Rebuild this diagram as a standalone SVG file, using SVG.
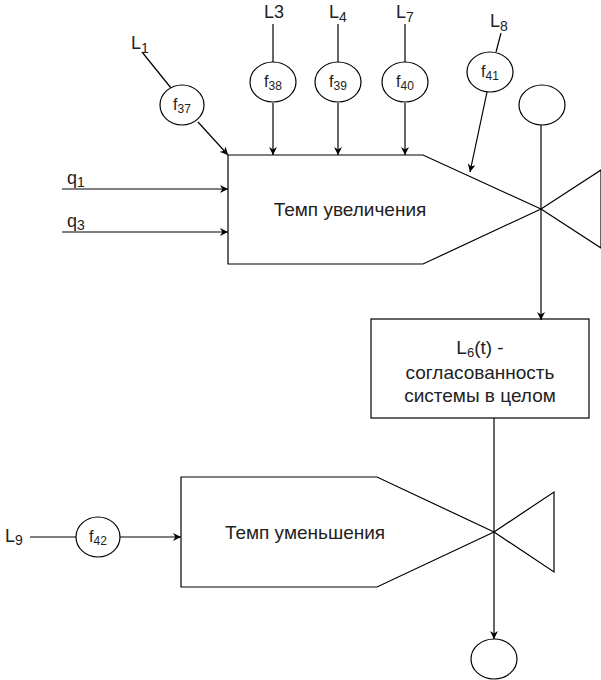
<svg xmlns="http://www.w3.org/2000/svg" width="601" height="680" viewBox="0 0 601 680">
<defs>
<style>
.s{fill:none;stroke:#000;stroke-width:1.2}
.w{fill:#fff;stroke:#000;stroke-width:1.2}
.t{font-family:"Liberation Sans",Arial,sans-serif;font-size:19px;fill:#222}
.l{font-family:"Liberation Sans",Arial,sans-serif;font-size:18px;fill:#222}
.f{font-family:"Liberation Sans",Arial,sans-serif;font-size:16px;fill:#222}
.b{font-family:"Liberation Sans",Arial,sans-serif;font-size:19px;fill:#222}
</style>
<marker id="a" viewBox="0 0 10 10" refX="10" refY="5" markerWidth="8" markerHeight="8" markerUnits="userSpaceOnUse" orient="auto">
<path d="M0,0 L10,5 L0,10 L3,5 z" fill="#000"/>
</marker>
</defs>
<rect width="601" height="680" fill="#fff"/>
<g id="connectors">
<line class="s" x1="142" y1="52" x2="171" y2="88"/>
<line class="s" x1="198" y1="122" x2="228" y2="155" marker-end="url(#a)"/>
<line class="s" x1="273" y1="24" x2="273" y2="62"/>
<line class="s" x1="273" y1="103" x2="273" y2="155" marker-end="url(#a)"/>
<line class="s" x1="338" y1="24" x2="338" y2="62"/>
<line class="s" x1="338" y1="103" x2="338" y2="155" marker-end="url(#a)"/>
<line class="s" x1="405" y1="24" x2="405" y2="62"/>
<line class="s" x1="405" y1="103" x2="405" y2="155" marker-end="url(#a)"/>
<line class="s" x1="501" y1="33" x2="496" y2="52"/>
<line class="s" x1="487" y1="92" x2="470" y2="172" marker-end="url(#a)"/>
<line class="s" x1="62" y1="189" x2="228" y2="189" marker-end="url(#a)"/>
<line class="s" x1="62" y1="232" x2="228" y2="232" marker-end="url(#a)"/>
<line class="s" x1="541" y1="125" x2="541" y2="320" marker-end="url(#a)"/>
<line class="s" x1="494" y1="418" x2="494" y2="639" marker-end="url(#a)"/>
<line class="s" x1="30" y1="537" x2="76" y2="537"/>
<line class="s" x1="120" y1="537" x2="181" y2="537" marker-end="url(#a)"/>
</g>
<g id="rate-increase">
<polyline class="s" points="541,209 423,155 228,155 228,264 423,264 541,209"/>
<polygon class="s" points="541,209 601,170 601,248"/>
<text class="t" x="350" y="216" text-anchor="middle">Темп увеличения</text>
</g>
<g id="rate-decrease">
<polyline class="s" points="494,532 377,477 181,477 181,587 377,587 494,532"/>
<polygon class="s" points="494,532 554,492 554,572"/>
<text class="t" x="305" y="539" text-anchor="middle">Темп уменьшения</text>
</g>
<g id="L6">
<rect class="s" x="371" y="319" width="218" height="99"/>
<text class="b" x="480" y="354" text-anchor="middle">L<tspan font-size="13" dy="3">6</tspan><tspan dy="-3">(t) -</tspan></text>
<text class="b" x="480" y="379" text-anchor="middle">согласованность</text>
<text class="b" x="480" y="402" text-anchor="middle">системы в целом</text>
</g>
<g id="source"><ellipse class="w" cx="542" cy="105" rx="23" ry="20"/></g>
<g id="sink"><ellipse class="w" cx="494" cy="659" rx="23" ry="20"/></g>
<g id="f37"><ellipse class="w" cx="182" cy="105" rx="22" ry="20"/>
<text class="f" x="182" y="110" text-anchor="middle">f<tspan font-size="12" dy="3">37</tspan></text></g>
<g id="f38"><ellipse class="w" cx="273" cy="82" rx="23" ry="20"/>
<text class="f" x="273" y="87" text-anchor="middle">f<tspan font-size="12" dy="3">38</tspan></text></g>
<g id="f39"><ellipse class="w" cx="338" cy="82" rx="23" ry="20"/>
<text class="f" x="338" y="87" text-anchor="middle">f<tspan font-size="12" dy="3">39</tspan></text></g>
<g id="f40"><ellipse class="w" cx="405" cy="82" rx="23" ry="20"/>
<text class="f" x="405" y="87" text-anchor="middle">f<tspan font-size="12" dy="3">40</tspan></text></g>
<g id="f41"><ellipse class="w" cx="490" cy="72" rx="23" ry="20"/>
<text class="f" x="490" y="77" text-anchor="middle">f<tspan font-size="12" dy="3">41</tspan></text></g>
<g id="f42"><ellipse class="w" cx="98" cy="537" rx="22" ry="20"/>
<text class="f" x="98" y="542" text-anchor="middle">f<tspan font-size="12" dy="3">42</tspan></text></g>
<g id="labels">
<text class="l" x="131" y="49">L<tspan font-size="14" dy="4">1</tspan></text>
<text class="l" x="264" y="18">L3</text>
<text class="l" x="329" y="18">L<tspan font-size="14" dy="4">4</tspan></text>
<text class="l" x="396" y="18">L<tspan font-size="14" dy="4">7</tspan></text>
<text class="l" x="490" y="27">L<tspan font-size="14" dy="4">8</tspan></text>
<text class="l" x="5" y="542">L<tspan font-size="14" dy="3">9</tspan></text>
<text class="l" x="67" y="184">q<tspan font-size="14" dy="3">1</tspan></text>
<text class="l" x="67" y="227">q<tspan font-size="14" dy="3">3</tspan></text>
</g>
</svg>
